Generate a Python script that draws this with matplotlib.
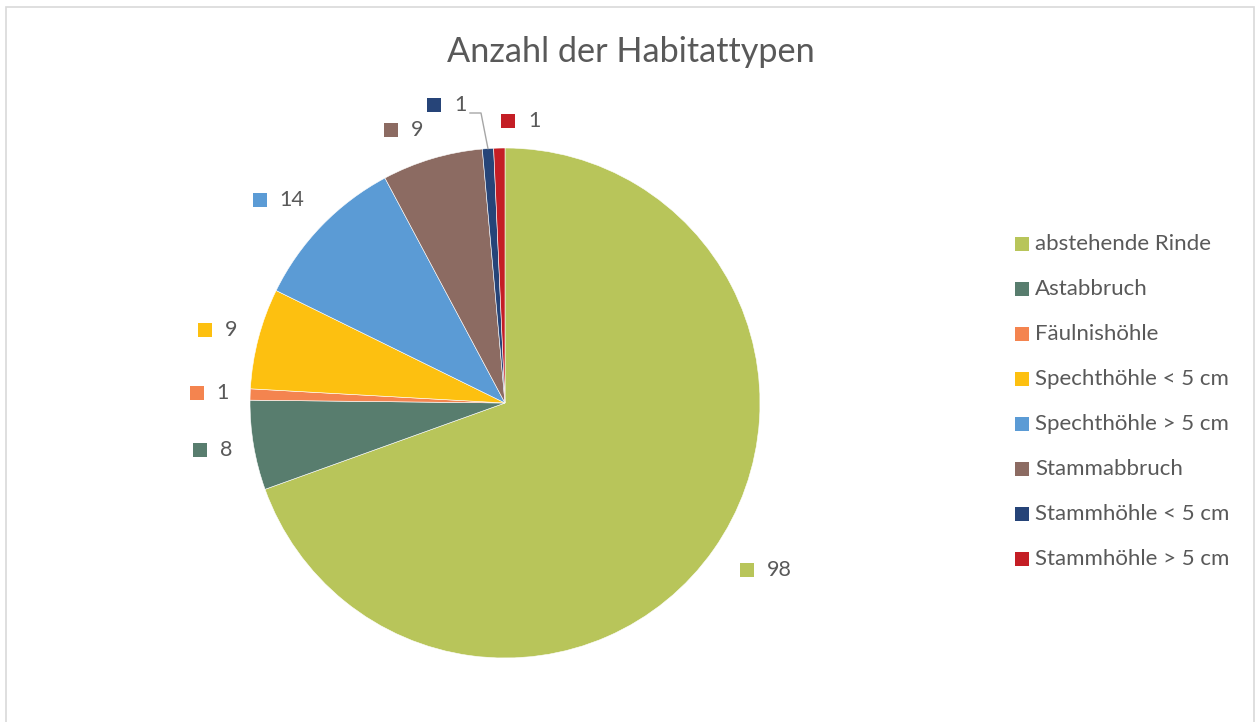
import numpy as np
import matplotlib
matplotlib.use("Agg")
import matplotlib.pyplot as plt
from matplotlib.patches import Rectangle
from matplotlib.lines import Line2D

categories = ["abstehende Rinde", "Astabbruch", "Fäulnishöhle", "Spechthöhle < 5 cm",
              "Spechthöhle > 5 cm", "Stammabbruch", "Stammhöhle < 5 cm", "Stammhöhle > 5 cm"]
values = [98, 8, 1, 9, 14, 9, 1, 1]
colors = ["#B8C55A", "#587D6E", "#F4844F", "#FDC010", "#5B9BD5", "#8C6B62", "#264478", "#C41E25"]
title = "Anzahl der Habitattypen"

W, H = 1255, 722
fig = plt.figure(figsize=(W / 100, H / 100), dpi=100)
FONT = ["Lato", "DejaVu Sans"]
TXT = "#595959"

# chart border
fig.add_artist(Rectangle((6 / W, -0.05), (1254 - 6) / W, 1.05 - 7 / H, transform=fig.transFigure,
                         fill=False, edgecolor="#D9D9D9", linewidth=1.2))

cx, cy, r = 505, 403, 255
ax = fig.add_axes([(cx - r) / W, (H - cy - r) / H, 2 * r / W, 2 * r / H])
wedges, _ = ax.pie(values, colors=colors, startangle=90, counterclock=False,
                   wedgeprops=dict(linewidth=0.4, edgecolor="white"))
ax.set_xlim(-1, 1)
ax.set_ylim(-1, 1)
ax.axis("off")

# data labels (marker + number), Excel style
d_ang = [0.5, -0.8, 0, 1.0, 4.4, 6.1, 9.6, -1.9]
rad = [1.153, 1.21, 1.21, 1.21, 1.25, 1.16, 1.2, 1.106]
text_dx = 20 / r
for i, w in enumerate(wedges):
    mid = np.deg2rad((w.theta1 + w.theta2) / 2 + d_ang[i])
    x, y = rad[i] * np.cos(mid), rad[i] * np.sin(mid)
    ax.plot([x], [y], marker="s", markersize=9.5, color=colors[i], clip_on=False,
            linestyle="none", markeredgewidth=0)
    ax.text(x + text_dx, y, str(values[i]), ha="left", va="center", fontsize=15.5, color=TXT,
            family=FONT, clip_on=False)

# leader line for Stammhöhle < 5 cm
w6 = wedges[6]
m6 = np.deg2rad((w6.theta1 + w6.theta2) / 2)
ex, ey = np.cos(m6) * 1.0, np.sin(m6) * 1.0
ax.add_line(Line2D([(470 - cx) / r, (481 - cx) / r, ex], [(cy - 113) / r, (cy - 113) / r, ey],
                   color="#A6A6A6", linewidth=1.0, clip_on=False))

fig.text(631 / W, 1 - 52 / H, title, ha="center", va="center", fontsize=24.7, color=TXT, family=FONT)

# legend
for i, c in enumerate(categories):
    yy = 244 + 45 * i
    fig.add_artist(Rectangle((1015 / W, 1 - (yy + 7) / H), 14 / W, 14 / H, transform=fig.transFigure,
                             facecolor=colors[i], edgecolor="none"))
    fig.text(1035 / W, 1 - yy / H, c, ha="left", va="center", fontsize=16, color=TXT, family=FONT)

fig.savefig("out.png", dpi=100)
